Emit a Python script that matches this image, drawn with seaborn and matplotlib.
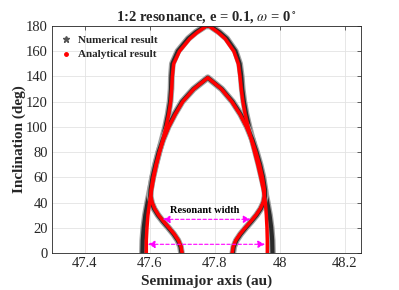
import numpy as np
import pandas as pd
import matplotlib
matplotlib.use("Agg")
import matplotlib.pyplot as plt
import matplotlib.patheffects as pe
from matplotlib.lines import Line2D
import seaborn as sns

# ---------------- data ----------------
incl_outer = [0, 10, 20, 30, 40, 50, 60, 70, 80, 90, 100, 110, 120, 130, 140, 150, 160, 170, 175, 180]
# numerical result (black stars)
num_outer_left = [47.578, 47.579, 47.582, 47.587, 47.594, 47.602, 47.610, 47.619, 47.629, 47.639,
                  47.649, 47.657, 47.663, 47.666, 47.667, 47.670, 47.687, 47.719, 47.742, 47.772]
num_outer_right = [47.978, 47.977, 47.974, 47.969, 47.962, 47.954, 47.945, 47.936, 47.926, 47.916,
                   47.906, 47.897, 47.890, 47.885, 47.882, 47.877, 47.864, 47.837, 47.815, 47.786]
# analytical result (red dots)
ana_outer_left = [47.590, 47.590, 47.592, 47.595, 47.600, 47.606, 47.613, 47.621, 47.631, 47.641,
                  47.651, 47.659, 47.665, 47.668, 47.670, 47.674, 47.692, 47.724, 47.747, 47.775]
ana_outer_right = [47.962, 47.962, 47.961, 47.959, 47.956, 47.950, 47.942, 47.933, 47.923, 47.913,
                   47.903, 47.894, 47.887, 47.882, 47.878, 47.873, 47.859, 47.832, 47.810, 47.783]

incl_inner = [0, 5, 10, 15, 20, 25, 30, 35, 40, 45, 50, 60, 70, 80, 90, 100, 110, 120, 130, 139]
num_inner_left = [47.698, 47.695, 47.687, 47.674, 47.658, 47.641, 47.626, 47.614, 47.606, 47.602,
                  47.603, 47.609, 47.618, 47.628, 47.641, 47.657, 47.677, 47.700, 47.735, 47.779]
num_inner_right = [47.856, 47.859, 47.867, 47.880, 47.896, 47.913, 47.929, 47.942, 47.951, 47.955,
                   47.955, 47.949, 47.940, 47.929, 47.916, 47.900, 47.880, 47.855, 47.822, 47.779]
ana_inner_left = [47.700, 47.697, 47.689, 47.676, 47.660, 47.643, 47.628, 47.616, 47.608, 47.604,
                  47.605, 47.611, 47.620, 47.630, 47.643, 47.659, 47.679, 47.702, 47.736, 47.779]
ana_inner_right = [47.854, 47.857, 47.865, 47.878, 47.894, 47.911, 47.927, 47.940, 47.949, 47.953,
                   47.953, 47.947, 47.938, 47.927, 47.914, 47.898, 47.878, 47.853, 47.821, 47.779]

# resonant-width arrows: (inclination, a_start, a_end)
arrow_incl = [26.7, 6.9]
arrow_a0 = [47.641, 47.595]
arrow_a1 = [47.910, 47.955]

title = r"1:2 resonance, e = 0.1, $\omega$ = 0$^\circ$"
xlabel = "Semimajor axis (au)"
ylabel = "Inclination (deg)"
xticks = [47.4, 47.6, 47.8, 48.0, 48.2]
xticklabels = ["47.4", "47.6", "47.8", "48", "48.2"]
yticks = [0, 20, 40, 60, 80, 100, 120, 140, 160, 180]


def branch_df(inc, left, right):
    a = list(left) + list(right)[::-1]
    i = list(inc) + list(inc)[::-1]
    return pd.DataFrame({"a": a, "i": i, "k": np.arange(len(a))})


num_curves = [branch_df(incl_outer, num_outer_left, num_outer_right),
              branch_df(incl_inner, num_inner_left, num_inner_right)]
ana_curves = [branch_df(incl_outer, ana_outer_left, ana_outer_right),
              branch_df(incl_inner, ana_inner_left, ana_inner_right)]

# ---------------- style ----------------
sns.set_theme(style="whitegrid")
plt.rcParams["font.family"] = ["Liberation Serif", "DejaVu Serif"]
plt.rcParams["mathtext.fontset"] = "stix"

fig = plt.figure(figsize=(3.99, 2.90), dpi=100)
fig.patch.set_facecolor("white")
ax = fig.add_axes([0.1303, 0.1276, 0.7744, 0.7828])
ax.set_facecolor("white")

for df in num_curves:
    sns.lineplot(data=df, x="a", y="i", sort=False, estimator=None, ax=ax,
                 color="#2a2a2a", lw=3.0,
                 path_effects=[pe.Stroke(linewidth=4.8, foreground="#a0a0a0"), pe.Normal()])
for df in ana_curves:
    sns.lineplot(data=df, x="a", y="i", sort=False, estimator=None, ax=ax,
                 color="#ff0000", lw=2.5)

for yi, a0, a1 in zip(arrow_incl, arrow_a0, arrow_a1):
    ax.annotate("", xy=(a1, yi), xytext=(a0, yi),
                arrowprops=dict(arrowstyle="<|-|>,head_length=0.35,head_width=0.18",
                                color="#ff00ff", lw=0.8, ls=(0, (3, 2)),
                                shrinkA=0, shrinkB=0))
ax.text(47.77, 34, "Resonant width", ha="center", va="center",
        fontsize=7.5, fontweight="bold", color="black")

ax.set_xlim(47.3, 48.25)
ax.set_ylim(0, 180)
ax.set_xticks(xticks)
ax.set_xticklabels(xticklabels)
ax.set_yticks(yticks)
ax.tick_params(axis="both", direction="in", length=3, width=0.5, labelsize=10.5,
               colors="#262626", pad=3, top=True, right=True)
ax.grid(True, color="#e3e3e3", lw=0.6)
for s in ax.spines.values():
    s.set_visible(True)
    s.set_color("#262626")
    s.set_linewidth(0.6)

ax.set_xlabel(xlabel, fontsize=11, fontweight="bold", labelpad=3)
ax.set_ylabel(ylabel, fontsize=11, fontweight="bold", labelpad=0)
ax.set_title(title, fontsize=10.5, fontweight="bold", pad=4)

handles = [Line2D([], [], ls="none", marker="*", color="#555555", markersize=5),
           Line2D([], [], ls="none", marker=".", color="#ff0000", markersize=5)]
ax.legend(handles, ["Numerical result", "Analytical result"], loc="upper left",
          bbox_to_anchor=(0.0, 1.0), frameon=False, handlelength=1.0, handletextpad=0.5,
          borderaxespad=0.4, labelspacing=0.45,
          prop={"weight": "bold", "size": 8, "family": ["Liberation Serif"]})

fig.savefig("out.png", dpi=100, facecolor="white")
